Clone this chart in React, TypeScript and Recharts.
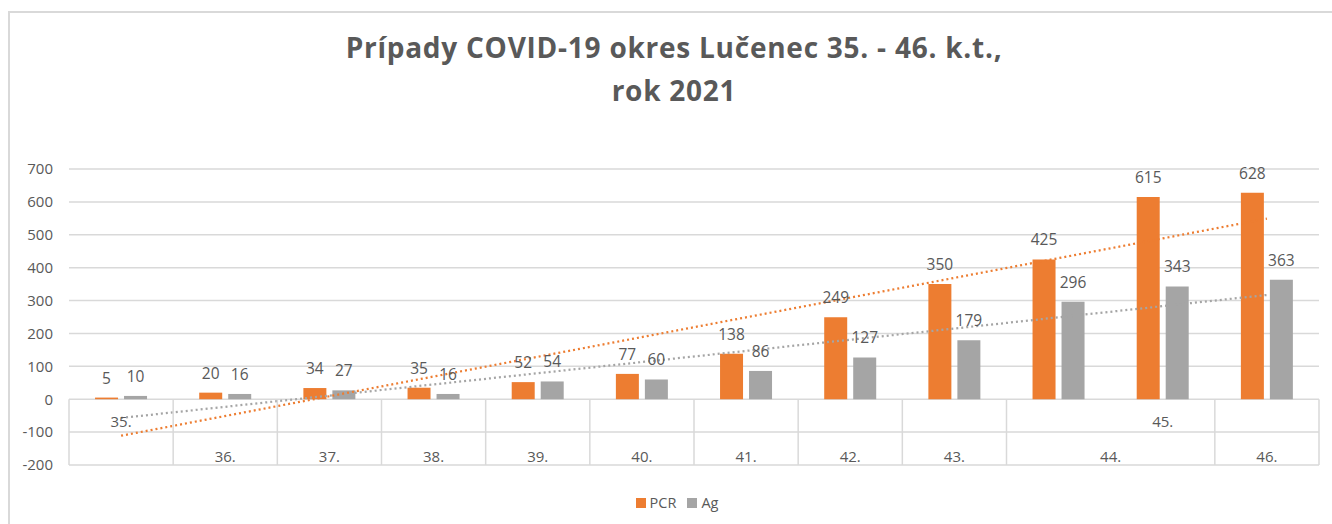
import React from 'react';
import { ComposedChart, Bar, XAxis, YAxis, CartesianGrid, LabelList, ReferenceLine, Legend } from 'recharts';

const weeks = ['35.', '36.', '37.', '38.', '39.', '40.', '41.', '42.', '43.', '44.', '45.', '46.'];
const pcrValues = [5, 20, 34, 35, 52, 77, 138, 249, 350, 425, 615, 628];
const agValues = [10, 16, 27, 16, 54, 60, 86, 127, 179, 296, 343, 363];
const yTicks = [-200, -100, 0, 100, 200, 300, 400, 500, 600, 700];
// linear trend lines, values read at the first and last week
const pcrTrend = [-111, 549];
const agTrend = [-57, 317];

const data = weeks.map((w, i) => ({ week: w, PCR: pcrValues[i], Ag: agValues[i] }));

const W = 1332;
const H = 524;
const M = { top: 169, right: 13, left: 9, bottom: 0 };
const YAXIS_W = 60;
const XAXIS_H = 59;
const PLOT_LEFT = M.left + YAXIS_W;
const PLOT_W = W - M.right - PLOT_LEFT;
const PLOT_H = H - M.top - M.bottom - XAXIS_H;
const Y_MIN = -200;
const Y_MAX = 700;
const yOf = (v: number) => M.top + ((Y_MAX - v) / (Y_MAX - Y_MIN)) * PLOT_H;
const BAND = PLOT_W / weeks.length;

const ORANGE = '#ED7D31';
const GRAY = '#A5A5A5';
const TEXT = '#595959';
const GRID = '#D9D9D9';
const FONT = '"Open Sans", sans-serif';

const upperRow = new Set(['35.', '45.']);
const shiftHalf = new Set(['44.']);
const noLeftBorder = new Set(['45.']);

const AxisCell = (props: any) => {
  const { x, payload, index } = props;
  const v = payload.value as string;
  const y0 = yOf(0);
  const yb = yOf(-200);
  const y100 = yOf(-100);
  const lx = x + (shiftHalf.has(v) ? BAND / 2 : 0);
  const ly = upperRow.has(v) ? y0 + 28 : y100 + 30;
  return (
    <g>
      {!noLeftBorder.has(v) && (
        <line x1={x - BAND / 2} x2={x - BAND / 2} y1={y0} y2={yb} stroke={GRID} strokeWidth={1.5} />
      )}
      {index === weeks.length - 1 && (
        <line x1={x + BAND / 2} x2={x + BAND / 2} y1={y0} y2={yb} stroke={GRID} strokeWidth={1.5} />
      )}
      <text x={lx} y={ly} textAnchor="middle" fill={TEXT} fontSize={15} fontFamily={FONT}>
        {v}
      </text>
    </g>
  );
};

const LegendContent = () => (
  <div
    style={{
      display: 'flex',
      justifyContent: 'center',
      alignItems: 'center',
      fontFamily: FONT,
      fontSize: 14.5,
      color: TEXT,
      paddingLeft: 22,
    }}
  >
    <span style={{ display: 'inline-block', width: 10, height: 10, background: ORANGE, marginRight: 4 }} />
    <span style={{ marginRight: 11 }}>PCR</span>
    <span style={{ display: 'inline-block', width: 10, height: 10, background: GRAY, marginRight: 4 }} />
    <span>Ag</span>
  </div>
);

export default function App() {
  return (
    <div style={{ position: 'absolute', left: 0, top: 0, width: W, height: H, background: '#fff', overflow: 'hidden' }}>
      <div
        style={{
          position: 'absolute',
          left: 8,
          top: 11,
          width: W,
          height: H,
          borderLeft: `2px solid ${GRID}`,
          borderTop: `2px solid ${GRID}`,
        }}
      />
      <div
        style={{
          position: 'absolute',
          left: 0,
          top: 26,
          width: W,
          paddingLeft: 16,
          boxSizing: 'border-box',
          textAlign: 'center',
          fontFamily: FONT,
          fontWeight: 700,
          fontSize: 28,
          letterSpacing: 0.75,
          lineHeight: '43px',
          color: TEXT,
        }}
      >
        Prípady COVID-19 okres Lučenec 35. - 46. k.t.,
        <br />
        rok 2021
      </div>
      <div style={{ position: 'absolute', left: 0, top: 0 }}>
        <ComposedChart width={W} height={H} data={data} margin={M} barCategoryGap="25%" barGap={6}>
          <CartesianGrid vertical={false} stroke={GRID} strokeWidth={1.5} />
          <XAxis
            dataKey="week"
            height={XAXIS_H}
            axisLine={false}
            tickLine={false}
            tick={<AxisCell />}
            interval={0}
          />
          <YAxis
            width={YAXIS_W}
            domain={[Y_MIN, Y_MAX]}
            ticks={yTicks}
            axisLine={false}
            tickLine={false}
            tickMargin={10}
            tick={{ fill: TEXT, fontSize: 15, fontFamily: FONT }}
          />
          <Bar dataKey="PCR" fill={ORANGE} isAnimationActive={false}>
            <LabelList dataKey="PCR" position="top" offset={14} fill={TEXT} fontSize={15.5} fontFamily={FONT} />
          </Bar>
          <Bar dataKey="Ag" fill={GRAY} isAnimationActive={false}>
            <LabelList dataKey="Ag" position="top" offset={14} fill={TEXT} fontSize={15.5} fontFamily={FONT} />
          </Bar>
          <ReferenceLine
            segment={[
              { x: weeks[0], y: pcrTrend[0] },
              { x: weeks[weeks.length - 1], y: pcrTrend[1] },
            ]}
            stroke={ORANGE}
            strokeWidth={2.25}
            strokeDasharray="2 3"
            ifOverflow="visible"
          />
          <ReferenceLine
            segment={[
              { x: weeks[0], y: agTrend[0] },
              { x: weeks[weeks.length - 1], y: agTrend[1] },
            ]}
            stroke={GRAY}
            strokeWidth={2.25}
            strokeDasharray="2 3"
            ifOverflow="visible"
          />
          <Legend
            layout="horizontal"
            verticalAlign="middle"
            align="center"
            wrapperStyle={{ top: 493, left: 0, width: W }}
            content={<LegendContent />}
          />
        </ComposedChart>
      </div>
    </div>
  );
}
